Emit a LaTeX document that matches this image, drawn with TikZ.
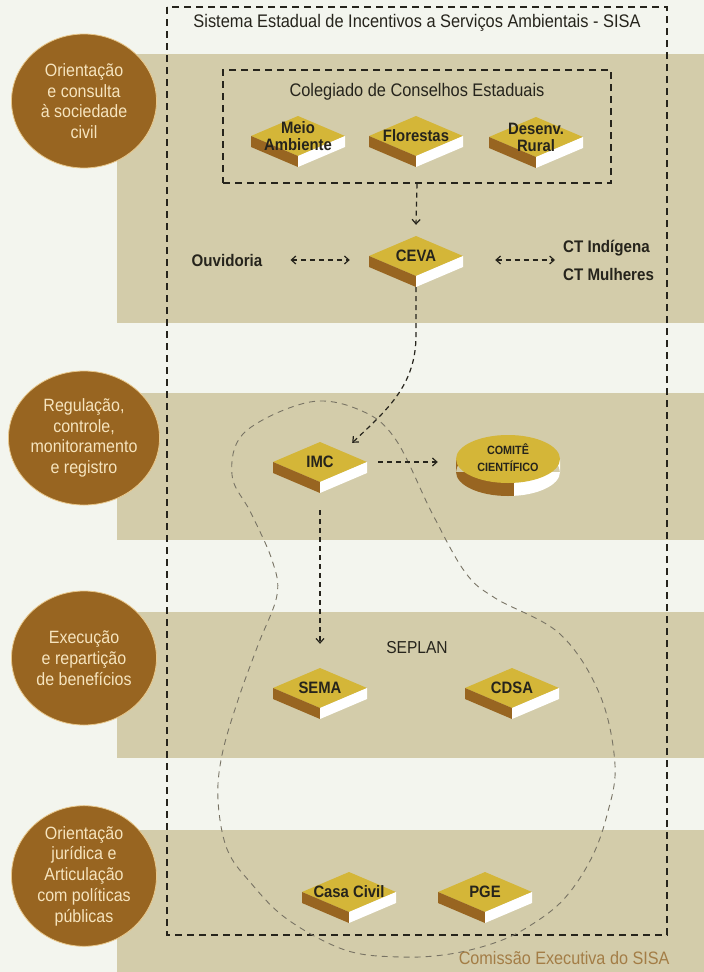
\documentclass[tikz,border=0pt]{standalone}
\usepackage{fontspec}
\setmainfont{Liberation Sans}[FakeStretch=0.9]
\usetikzlibrary{arrows.meta,shapes.geometric}

\definecolor{paper}{RGB}{243,245,238}
\definecolor{band}{RGB}{211,204,170}
\definecolor{umber}{RGB}{152,101,33}
\definecolor{rim}{RGB}{232,200,140}
\definecolor{cream}{RGB}{246,228,190}
\definecolor{gold}{RGB}{212,182,56}
\definecolor{ink}{RGB}{38,36,28}
\definecolor{loopgray}{RGB}{120,115,100}
\definecolor{caption}{RGB}{163,125,70}

\tikzset{
  phase/.style={ellipse, fill=umber, draw=rim, line width=0.8pt,
    minimum width=145pt, minimum height=134pt, inner sep=0pt,
    text=cream, align=center, font=\fontsize{17.8}{20.7}\selectfont},
  slab/.style={minimum width=94pt, minimum height=62pt, inner sep=0pt,
    align=center, text=ink, font=\bfseries\fontsize{16.5}{17}\selectfont},
  tag/.style={text=ink, inner sep=3pt, align=left,
    font=\bfseries\fontsize{16.8}{28}\selectfont},
  plain/.style={text=ink, inner sep=3pt, font=\fontsize{18.2}{20}\selectfont},
  dashbox/.style={draw=ink, dash pattern=on 7pt off 5pt, line width=1.1pt},
  conn/.style={draw=ink, dash pattern=on 5pt off 4pt, line width=1.2pt,
    -{Straight Barb[length=4.5pt,width=8pt]}},
  twoway/.style={conn, {Straight Barb[length=4.5pt,width=8pt]}-{Straight Barb[length=4.5pt,width=8pt]}},
  blob/.style={draw=loopgray, dash pattern=on 6pt off 5pt, line width=0.9pt},
}

% isometric block: name, x, y, text
\newcommand{\drawslab}[4]{%
  \begin{scope}[shift={(#2,#3)}]
    \fill[gold] (-47,0) -- (0,-20) -- (47,0) -- (0,20) -- cycle;
    \fill[umber] (-47,0) -- (0,20) -- (0,31) -- (-47,11) -- cycle;
    \fill[white] (0,20) -- (47,0) -- (47,11) -- (0,31) -- cycle;
  \end{scope}
  \node[slab] (#1) at (#2,#3) {#4};}

\begin{document}
\begin{tikzpicture}[x=1pt, y=-1pt]
            % Page and bands
            \fill[paper] (0,0) rectangle (704,972);
            \useasboundingbox (0,0) rectangle (704,972);
            \fill[band] (117,54) rectangle (704,323);
            \fill[band] (117,393) rectangle (704,540);
            \fill[band] (117,612) rectangle (704,758);
            \fill[band] (117,830) rectangle (704,972);

            % Outer frame
            \draw[dashbox] (167,7) rectangle (667,935);
            \node[plain] (sisa) at (417,23) {Sistema Estadual de Incentivos a Serviços Ambientais - SISA};

            % Phases
            \node[phase] (consulta) at (84,101) {Orientação\\e consulta\\à sociedade\\civil};
            \node[phase] (regulacao) at (84,438) {Regulação,\\controle,\\monitoramento\\e registro};
            \node[phase] (execucao) at (84,658) {Execução\\e repartição\\de benefícios};
            \node[phase] (juridica) at (84,876) {Orientação\\jurídica e\\Articulação\\com políticas\\públicas};

            % Comissão Executiva loop
            \draw[blob] plot[smooth cycle, tension=0.6] coordinates {
              (310,402) (362,411) (396,440) (432,513) (465,572) (495,598)
              (560,634) (600,695) (615,765) (607,815) (591,859) (564,899)
              (531,925) (497,942) (450,954) (400,957) (345,950) (287,919)
              (250,882) (227,849) (218,800) (222,755) (238,700) (258,645)
              (277,595) (272,560) (251,513) (232,475) (245,432)};
            \node[text=caption, anchor=east, font=\fontsize{18}{20}\selectfont] (comissao) at (673,958) {Comissão Executiva do SISA};

            % Colegiado
            \node[dashbox, minimum width=388pt, minimum height=113pt] (coleg) at (417,126.5) {};
            \node[plain] (colegtitle) at (417,92) {Colegiado de Conselhos Estaduais};
            \drawslab{meio}{298}{136}{Meio\\Ambiente}
            \drawslab{florestas}{416}{136}{Florestas}
            \drawslab{desenv}{536}{137}{Desenv.\\Rural}

            % CEVA row
            \drawslab{ceva}{416}{256}{CEVA}
            \node[tag] (ouv) at (227,260) {Ouvidoria};
            \node[tag, anchor=west] (ct) at (560,260) {CT Indígena\\CT Mulheres};

            % IMC and comite
            \drawslab{imc}{320}{462}{IMC}
            \begin{scope}
              \clip (450,440) rectangle (514,500);
              \fill[umber] (456,459) rectangle (560,472) (508,472) ellipse [x radius=52, y radius=24];
            \end{scope}
            \begin{scope}
              \clip (514,440) rectangle (566,500);
              \fill[white] (456,459) rectangle (560,472) (508,472) ellipse [x radius=52, y radius=24];
            \end{scope}
            \fill[gold] (508,459) ellipse [x radius=52, y radius=24];
            \node[slab, minimum width=104pt, minimum height=48pt,
              font=\bfseries\fontsize{12}{17}\selectfont] (comite) at (508,458) {COMITÊ\\CIENTÍFICO};

            % Execution
            \node[plain, font=\fontsize{17.3}{18}\selectfont] (seplan) at (417,648) {SEPLAN};
            \drawslab{sema}{320}{688}{SEMA}
            \drawslab{cdsa}{512}{688}{CDSA}

            % Legal
            \drawslab{casa}{349}{892}{Casa Civil}
            \drawslab{pge}{485}{892}{PGE}

            % Connectors
            \draw[conn] (coleg.south) -- (ceva.north);
            \draw[twoway, shorten <=25pt, shorten >=19pt] (ouv.east) -- (ouv.east -| ceva.west);
            \draw[twoway, shorten <=32pt, shorten >=5pt] (ceva.east |- ct.west) -- (ct.west);
            \draw[conn] (ceva.south) -- ++(0,48) .. controls +(0,50) and +(35,-33) .. ([shift={(-15,12)}]imc.north east);
            \draw[conn, shorten <=11pt, shorten >=18pt] (imc.east) -- (imc.east -| comite.west);
            \draw[conn, shorten <=17pt, shorten >=13pt] (imc.south) -- (sema.north);
\end{tikzpicture}
\end{document}
